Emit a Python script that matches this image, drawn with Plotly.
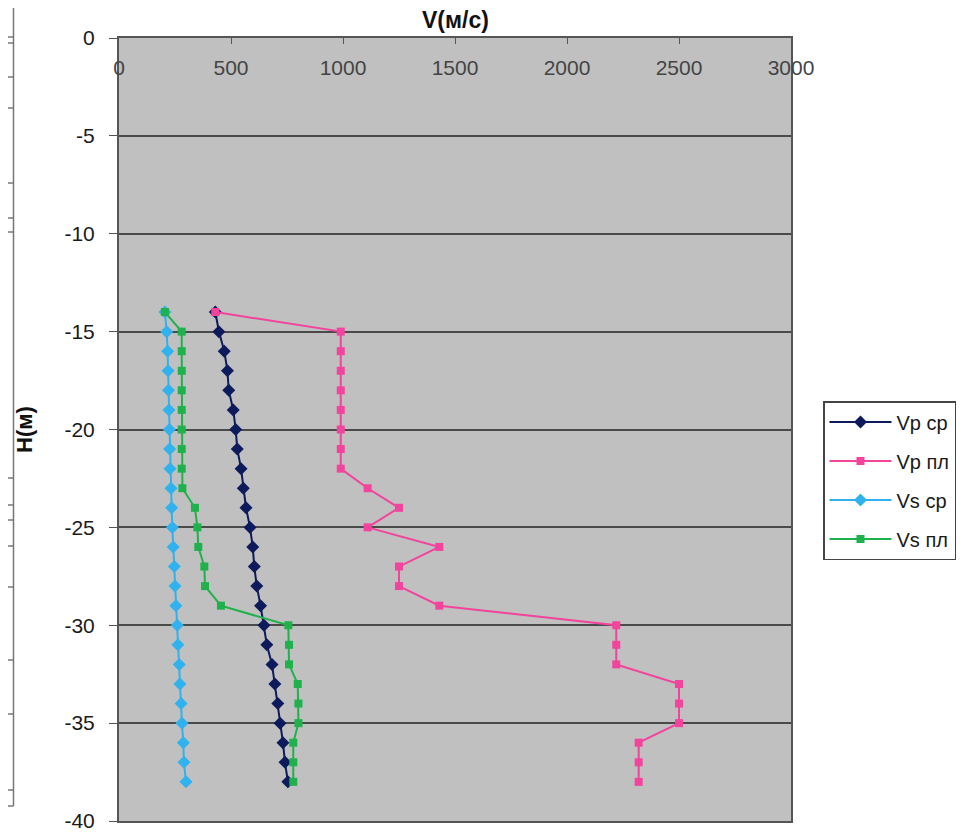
import plotly.graph_objects as go

# Depth (m)
depth = [-14, -15, -16, -17, -18, -19, -20, -21, -22, -23, -24, -25, -26,
         -27, -28, -29, -30, -31, -32, -33, -34, -35, -36, -37, -38]

vp_sr = [430, 446, 470, 484, 490, 510, 521, 528, 545, 555, 567, 585, 597,
         604, 615, 632, 647, 660, 683, 696, 709, 719, 732, 741, 754]
vp_pl = [430, 990, 990, 990, 990, 990, 990, 990, 990, 1110, 1250, 1110, 1430,
         1250, 1250, 1430, 2220, 2220, 2220, 2500, 2500, 2500, 2320, 2320, 2320]
vs_sr = [205, 213, 217, 219, 221, 223, 225, 226, 228, 232, 235, 238, 242,
         247, 250, 254, 260, 263, 269, 272, 277, 281, 287, 290, 299]
vs_pl = [205, 280, 280, 280, 280, 280, 280, 280, 280, 283, 339, 350, 354,
         381, 384, 455, 756, 759, 759, 798, 801, 801, 778, 778, 778]

names = ["Vp ср", "Vp пл", "Vs ср", "Vs пл"]
x_ticks = [0, 500, 1000, 1500, 2000, 2500, 3000]
y_ticks = [0, -5, -10, -15, -20, -25, -30, -35, -40]
x_title = "V(м/с)"
y_title = "H(м)"

FONT = "Liberation Sans, Arial, sans-serif"

series = [
    (vp_sr, names[0], "#0d1a5c", "diamond", 10),
    (vp_pl, names[1], "#f2449c", "square", 8),
    (vs_sr, names[2], "#2fb2ee", "diamond", 10),
    (vs_pl, names[3], "#1fb14c", "square", 8),
]

fig = go.Figure()
for vals, nm, col, sym, sz in series:
    fig.add_trace(go.Scatter(
        x=vals, y=depth, name=nm, mode="lines+markers",
        line=dict(color=col, width=2),
        marker=dict(symbol=sym, size=sz, color=col),
        legendgroup=nm,
    ))

# page offset from the default 8px body margin
OFF = 8
W, H = 980 - OFF, 833 - OFF
# plot area in page pixels (from reference)
L, R, T, B = 119 - OFF, 791 - OFF, 38 - OFF, 821 - OFF

def px(x):
    return (x - OFF - L) / (R - L)

def py(y):
    return (B - (y - OFF)) / (B - T)

shapes = []
# decorative fragments of a neighbouring table at the left edge
shapes.append(dict(type="line", xref="paper", yref="paper",
                   x0=px(13.5), x1=px(13.5), y0=py(OFF), y1=py(806),
                   line=dict(color="#777", width=1.5)))
for yy in [37, 43, 77, 108, 183, 218, 232, 478, 505, 520, 546, 587, 660, 714, 790, 806]:
    shapes.append(dict(type="line", xref="paper", yref="paper",
                       x0=px(OFF), x1=px(13.5), y0=py(yy), y1=py(yy),
                       line=dict(color="#777", width=1.5)))

annotations = [
    dict(text="<b>%s</b>" % x_title, xref="paper", yref="paper",
         x=px(455), y=py(20), xanchor="center", yanchor="middle",
         showarrow=False, font=dict(family=FONT, size=23, color="#111")),
    dict(text="<b>%s</b>" % y_title, xref="paper", yref="paper",
         x=px(24), y=py(430), xanchor="center", yanchor="middle",
         textangle=-90, showarrow=False,
         font=dict(family=FONT, size=22, color="#111")),
]

fig.update_layout(
    width=W, height=H,
    margin=dict(l=L, r=W - R, t=T, b=H - B, autoexpand=False),
    paper_bgcolor="white",
    plot_bgcolor="#c0c0c0",
    font=dict(family=FONT, size=21, color="#1a1a1a"),
    showlegend=True,
    legend=dict(
        x=px(823), y=py(401), xanchor="left", yanchor="top",
        bgcolor="white", bordercolor="#444", borderwidth=1.5,
        font=dict(family=FONT, size=20, color="#1a1a1a"),
        tracegroupgap=10,
        itemwidth=62,
    ),
    shapes=shapes,
    annotations=annotations,
)

fig.update_xaxes(
    range=[0, 3000], side="top", tickvals=x_ticks,
    ticktext=[str(v) for v in x_ticks],
    ticks="inside", ticklen=6, tickcolor="#555",
    ticklabelposition="inside", ticklabelstandoff=18,
    ticklabeloverflow="allow", automargin=False,
    showline=True, linecolor="#555", linewidth=2, mirror=True,
    showgrid=False, zeroline=False,
)
fig.update_yaxes(
    range=[-40, 0], tickvals=y_ticks,
    ticktext=[str(v) for v in y_ticks],
    ticks="outside", ticklen=8, tickcolor="#555",
    ticklabelstandoff=10, ticklabeloverflow="allow", automargin=False,
    showline=True, linecolor="#555", linewidth=2, mirror=True,
    showgrid=True, gridcolor="#4a4a4a", gridwidth=1.5,
    zeroline=False,
)

fig.write_html("out.html")
